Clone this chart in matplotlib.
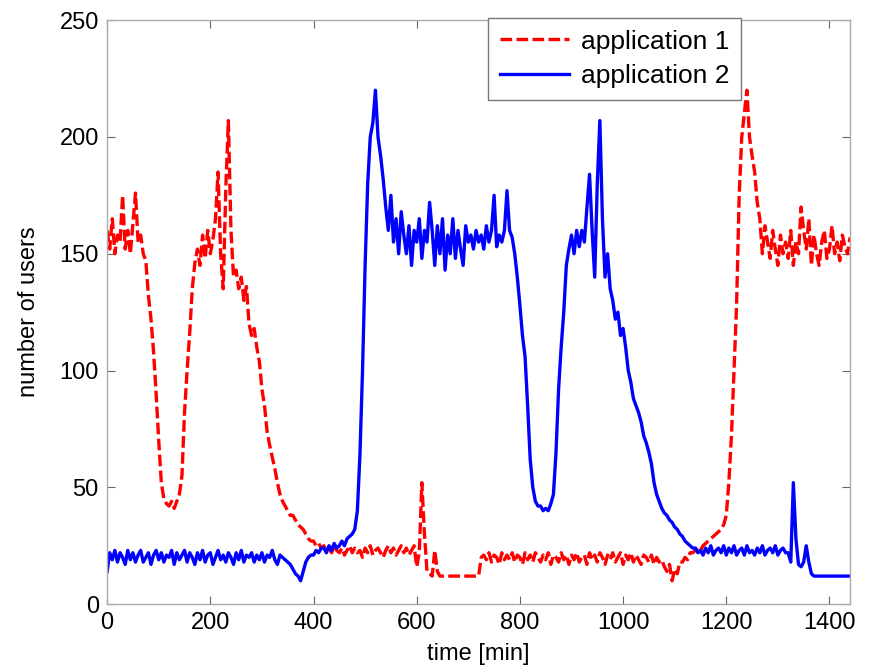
import numpy as np
import matplotlib.pyplot as plt

plt.rcParams['font.family'] = ['Liberation Sans', 'DejaVu Sans']

# time grid, one sample every 5 minutes over one day
time_min = np.arange(0, 1441, 5)

# application 1 (red, dashed) - one row per hour
app1_users = [
    160, 152, 165, 150, 158, 155, 175, 152, 160, 150, 163, 176,
    155, 158, 150, 147, 132, 122, 108, 90, 70, 52, 45, 43,
    42, 44, 41, 44, 47, 55, 82, 100, 116, 135, 146, 152,
    145, 158, 148, 160, 150, 156, 165, 185, 150, 135, 178, 207,
    160, 140, 143, 135, 140, 130, 136, 120, 115, 118, 110, 104,
    92, 85, 74, 68, 63, 58, 52, 47, 44, 42, 40, 38,
    38, 36, 34, 33, 32, 30, 28, 27, 27, 25, 26, 24,
    25, 23, 24, 22, 25, 23, 22, 24, 21, 23, 25, 22,
    24, 22, 23, 20, 24, 22, 25, 21, 23, 24, 22, 20,
    23, 25, 22, 24, 21, 23, 25, 22, 24, 21, 23, 25,
    16, 22, 52, 30, 14, 13, 12, 23, 14, 12, 12, 12,
    12, 12, 12, 12, 12, 12, 12, 12, 12, 12, 12, 12,
    12, 20, 21, 19, 22, 18, 21, 20, 17, 22, 19, 21,
    19, 22, 18, 21, 20, 17, 22, 19, 21, 18, 22, 20,
    18, 21, 19, 22, 17, 21, 20, 18, 22, 19, 21, 17,
    21, 19, 22, 18, 20, 21, 17, 22, 19, 21, 18, 22,
    20, 17, 21, 19, 22, 18, 20, 22, 17, 21, 19, 22,
    18, 21, 19, 17, 21, 20, 18, 21, 17, 20, 18, 19,
    16, 14, 17, 10, 15, 13, 18, 18, 20, 19, 22, 22,
    23, 24, 23, 25, 26, 27, 28, 29, 30, 31, 32, 34,
    38, 52, 72, 100, 128, 175, 200, 210, 220, 200, 192, 185,
    172, 165, 150, 162, 155, 148, 160, 152, 145, 158, 150, 155,
    148, 160, 145, 155, 150, 170, 160, 152, 165, 145, 158, 150,
    145, 155, 160, 148, 152, 162, 150, 155, 147, 158, 153, 150,
    157,
]

# application 2 (blue, solid)
app2_users = [
    14, 22, 19, 23, 18, 22, 20, 17, 23, 19, 22, 18,
    21, 23, 18, 20, 22, 17, 21, 23, 19, 22, 18, 21,
    20, 23, 17, 22, 19, 21, 23, 18, 22, 20, 17, 22,
    19, 23, 18, 21, 22, 17, 20, 23, 19, 21, 18, 22,
    20, 17, 22, 19, 23, 18, 21, 20, 22, 18, 21, 19,
    22, 18, 21, 20, 23, 19, 17, 21, 20, 19, 18, 17,
    15, 13, 12, 10, 14, 18, 20, 21, 21, 23, 22, 24,
    24, 22, 25, 23, 26, 24, 25, 27, 25, 28, 29, 30,
    32, 40, 64, 100, 145, 180, 200, 206, 220, 200, 192, 182,
    170, 160, 175, 155, 165, 150, 168, 158, 150, 162, 145, 160,
    155, 165, 148, 160, 155, 172, 160, 145, 162, 150, 165, 143,
    158, 150, 165, 148, 160, 152, 145, 162, 155, 158, 152, 160,
    155, 158, 152, 162, 155, 160, 175, 153, 158, 155, 160, 177,
    160, 157, 150, 140, 128, 115, 106, 85, 62, 50, 44, 42,
    42, 40, 41, 40, 43, 47, 65, 92, 110, 125, 145, 152,
    158, 150, 160, 153, 160, 155, 170, 184, 160, 140, 180, 207,
    165, 140, 150, 135, 130, 122, 125, 115, 118, 110, 100, 95,
    88, 85, 82, 78, 72, 69, 65, 60, 52, 47, 44, 41,
    39, 38, 36, 35, 33, 32, 30, 29, 27, 26, 25, 24,
    24, 22, 23, 21, 24, 22, 25, 21, 23, 24, 22, 25,
    21, 24, 22, 25, 21, 23, 24, 21, 25, 22, 23, 21,
    24, 22, 25, 21, 23, 24, 22, 25, 21, 23, 24, 22,
    22, 18, 52, 28, 17, 16, 18, 25, 18, 13, 12, 12,
    12, 12, 12, 12, 12, 12, 12, 12, 12, 12, 12, 12,
    12,
]

x_ticks = [0, 200, 400, 600, 800, 1000, 1200, 1400]
y_ticks = [0, 50, 100, 150, 200, 250]

fig = plt.figure(figsize=(8.71, 6.72), dpi=100)
ax = fig.add_axes([0.123, 0.101, 0.853, 0.869])

ax.plot(time_min, app1_users, color="#ff0000", linestyle="--", linewidth=2.4, dashes=(3.5, 1.3), label="application 1")
ax.plot(time_min, app2_users, color="#0000ff", linestyle="-", linewidth=2.4, label="application 2")

ax.set_xlim(0, 1440)
ax.set_ylim(0, 250)
ax.set_xticks(x_ticks)
ax.set_yticks(y_ticks)
ax.tick_params(direction="in", top=True, right=True, labelsize=17, length=6, color="#666666", pad=6)
for s in ax.spines.values():
    s.set_color("#aaaaaa")
    s.set_linewidth(1)

ax.set_xlabel("time [min]", fontsize=17, labelpad=6)
ax.set_ylabel("number of users", fontsize=17, labelpad=14)

leg = ax.legend(loc="upper left", bbox_to_anchor=(0.513, 1.004), fontsize=19, frameon=True,
                fancybox=False, framealpha=1, handlelength=2.6, borderpad=0.45, labelspacing=0.4,
                handletextpad=0.45, borderaxespad=0)
leg.get_frame().set_edgecolor("#777777")
leg.get_frame().set_linewidth(1)

plt.savefig("out.png", dpi=100)
